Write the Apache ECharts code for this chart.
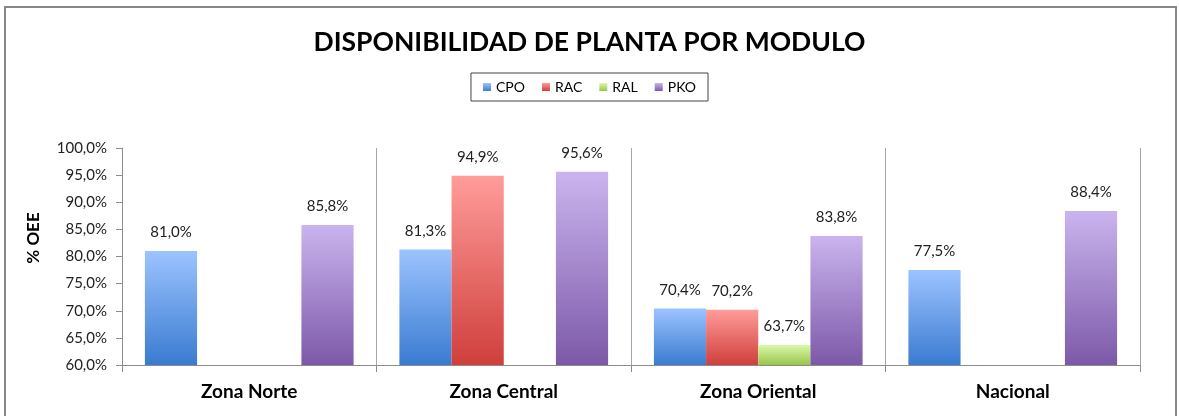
<!DOCTYPE html>
<html>
<head>
<meta charset="utf-8">
<script src="https://cdn.jsdelivr.net/npm/echarts@6/dist/echarts.min.js"></script>
<style>
  html, body { margin: 0; padding: 0; background: #fff; }
  #chart { width: 1179px; height: 416px; }
</style>
</head>
<body>
<div id="chart"></div>
<script>
// Zones on the category axis
const categories = ['Zona Norte', 'Zona Central', 'Zona Oriental', 'Nacional'];
// Plant availability (% OEE) per module; null where the module has no plant
const cpo = [81.0, 81.3, 70.4, 77.5];
const rac = [null, 94.9, 70.2, null];
const ral = [null, null, 63.7, null];
const pko = [85.8, 95.6, 83.8, 88.4];
const yTicks = { min: 60, max: 100, step: 5 };

const FONT = 'Lato, "Open Sans", sans-serif';

function grad(top, bottom) {
  return new echarts.graphic.LinearGradient(0, 0, 0, 1, [
    { offset: 0, color: top },
    { offset: 1, color: bottom }
  ]);
}
const pct = v => v.toFixed(1).replace('.', ',') + '%';

function bar(name, data, top, bottom) {
  return {
    name: name,
    type: 'bar',
    data: data,
    barGap: '0%',
    barCategoryGap: '18%',
    itemStyle: { color: grad(top, bottom) },
    label: {
      show: true,
      position: 'top',
      distance: 11,
      fontFamily: FONT,
      fontSize: 15,
      color: '#222',
      formatter: p => (p.value == null ? '' : pct(p.value))
    }
  };
}

const chart = echarts.init(document.getElementById('chart'), null, { renderer: 'canvas' });
chart.setOption({
  animation: false,
  backgroundColor: '#fff',
  title: {
    text: 'DISPONIBILIDAD DE PLANTA POR MODULO',
    left: 'center',
    top: 24,
    textStyle: { fontFamily: FONT, fontSize: 26.5, fontWeight: 'bold', color: '#000' }
  },
  legend: {
    top: 73,
    left: 'center',
    itemWidth: 8,
    itemHeight: 8,
    itemGap: 17,
    padding: [7, 12, 7, 12],
    borderColor: '#444',
    borderWidth: 1,
    icon: 'rect',
    textStyle: { fontFamily: FONT, fontSize: 14, color: '#000' },
    data: ['CPO', 'RAC', 'RAL', 'PKO']
  },
  grid: { left: 122, right: 39, top: 148, bottom: 51 },
  xAxis: {
    type: 'category',
    data: categories,
    axisLine: { lineStyle: { color: '#8c8c8c' } },
    axisTick: { show: true, length: 7, lineStyle: { color: '#8c8c8c' } },
    splitLine: { show: true, lineStyle: { color: '#a6a6a6', width: 1 } },
    axisLabel: { fontFamily: FONT, fontSize: 19, fontWeight: 'bold', color: '#000', margin: 17 }
  },
  yAxis: {
    type: 'value',
    min: yTicks.min,
    max: yTicks.max,
    interval: yTicks.step,
    axisLine: { show: true, lineStyle: { color: '#8c8c8c' } },
    axisTick: { show: true, length: 6, lineStyle: { color: '#8c8c8c' } },
    splitLine: { show: false },
    axisLabel: { fontFamily: FONT, fontSize: 15, color: '#222', margin: 15, formatter: v => pct(v) }
  },
  graphic: [
    {
      // outer chart frame
      type: 'rect',
      shape: { x: 5, y: 7, width: 1171, height: 420 },
      style: { fill: null, stroke: '#888', lineWidth: 2 },
      silent: true
    },
    {
      // value axis title
      type: 'text',
      x: 34,
      y: 238,
      rotation: Math.PI / 2,
      style: {
        text: '% OEE',
        fontFamily: FONT,
        fontSize: 17,
        fontWeight: 'bold',
        fill: '#000',
        align: 'center',
        verticalAlign: 'middle'
      },
      silent: true
    }
  ],
  series: [
    bar('CPO', cpo, '#9cc3ff', '#3a7bd0'),
    bar('RAC', rac, '#ff9c9a', '#cf3f3b'),
    bar('RAL', ral, '#dbf9a8', '#99c54b'),
    bar('PKO', pko, '#cab4ee', '#7c59a8')
  ]
});
</script>
</body>
</html>
